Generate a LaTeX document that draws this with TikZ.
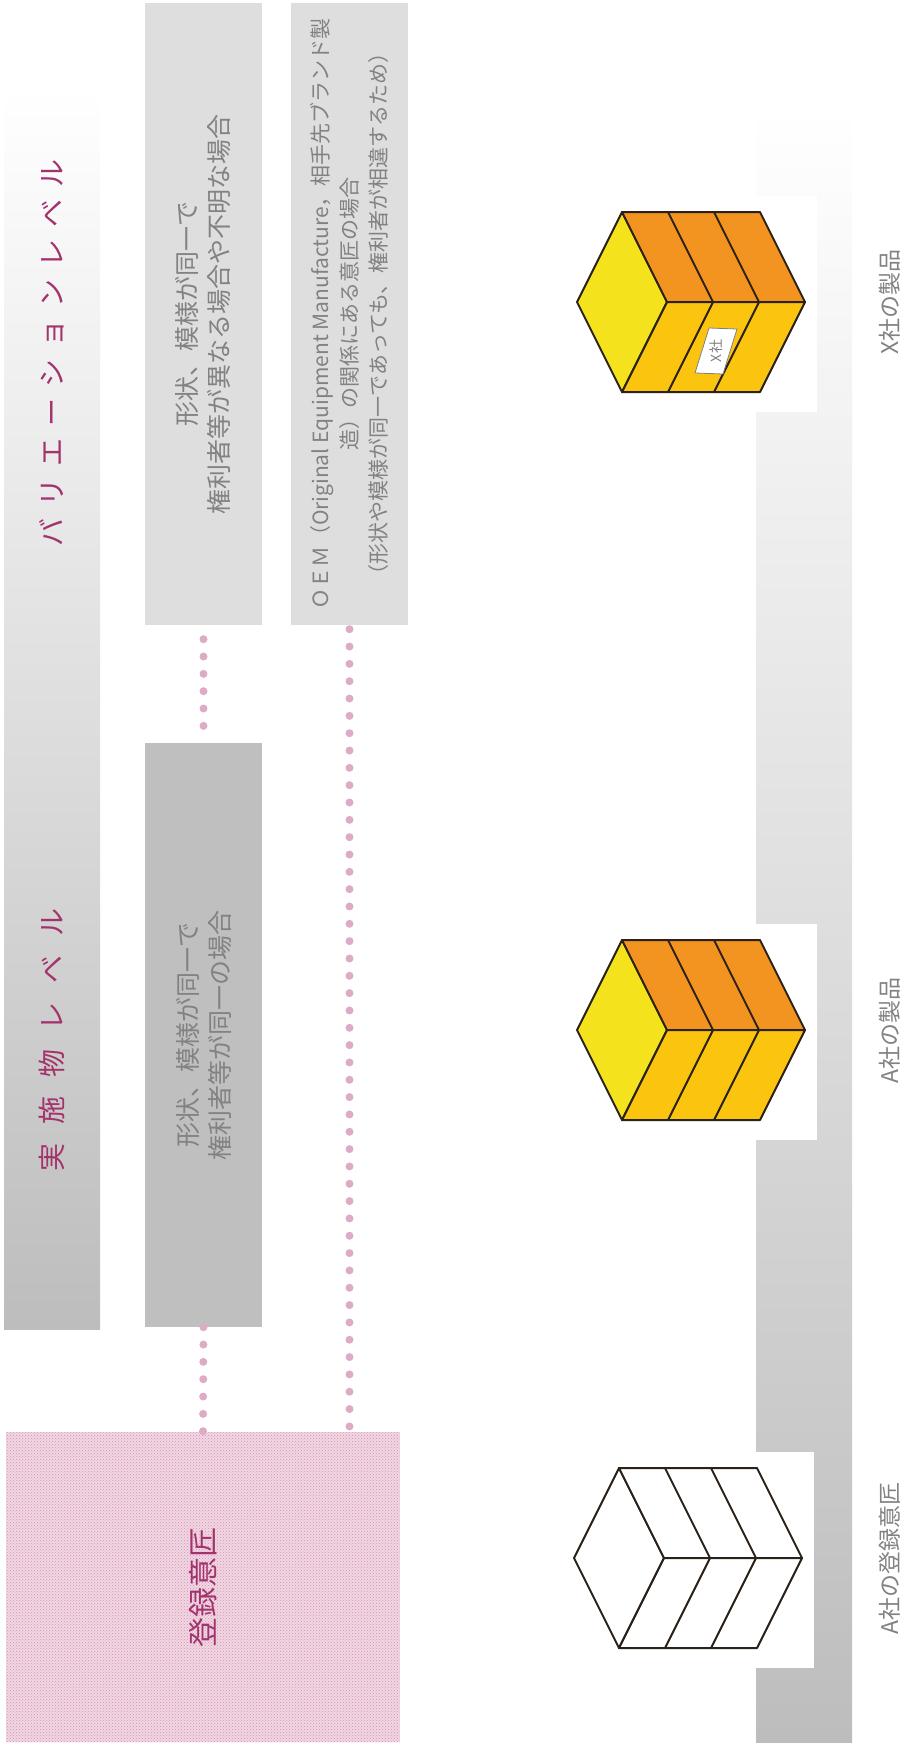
\documentclass[tikz,border=0pt]{standalone}
\usepackage{fontspec}
\setmainfont{Noto Sans CJK JP}
\usetikzlibrary{patterns}

\definecolor{plum}{HTML}{A3336C}
\definecolor{dotpink}{HTML}{DDABC4}
\definecolor{gridpink}{HTML}{D393B3}
\definecolor{regpink}{HTML}{F1D6E3}
\definecolor{notegray}{HTML}{828282}
\definecolor{paleface}{HTML}{DEDEDE}
\definecolor{midface}{HTML}{BFBFBF}
\definecolor{barbottom}{HTML}{BDBDBD}
\definecolor{lemon}{HTML}{F4E31C}
\definecolor{tangerine}{HTML}{F39420}
\definecolor{amber}{HTML}{FBC40E}
\definecolor{edge}{HTML}{2A2118}

\tikzset{
  levelbar/.style={top color=white, bottom color=barbottom, minimum width=96pt, inner sep=0pt},
  casebox/.style={minimum width=117pt, inner sep=0pt},
  casetext/.style={rotate=90, align=center, text=notegray, font=\fontsize{25}{32}\selectfont},
  leveltext/.style={rotate=90, text=plum, font=\fontsize{28}{34}\selectfont},
  caption/.style={rotate=90, text=notegray, font=\fontsize{23}{28}\selectfont},
  regbox/.style={preaction={fill=regpink}, pattern=crosshatch dots, pattern color=gridpink,
    minimum width=394pt, minimum height=310pt, inner sep=0pt},
  dotline/.style={draw=dotpink, line width=8pt, line cap=round, dash pattern=on 0pt off 17.33pt},
  cubeline/.style={draw=edge, line width=2pt, line join=round},
  pics/stripcube/.style n args={3}{code={
    \fill[white] (-12,-106) rectangle (240,110);
    \filldraw[cubeline, fill=#1] (0,0) -- (45,-90) -- (90,0) -- (45,90) -- cycle;
    \filldraw[cubeline, fill=#2] (45,-90) -- (183,-90) -- (228,0) -- (90,0) -- cycle;
    \filldraw[cubeline, fill=#3] (90,0) -- (228,0) -- (183,90) -- (45,90) -- cycle;
    \foreach \d in {46,92}
      \draw[cubeline] (45+\d,-90) -- (90+\d,0) -- (45+\d,90);
  }}
}

\begin{document}
\begin{tikzpicture}[x=1pt, y=-1pt]
  \useasboundingbox (0,0) rectangle (917,1746);

  % level bars
  \node[levelbar, minimum height=1241pt] (hdr) at (52,708.5) {};
  \node[levelbar, minimum height=1637pt] (prodbar) at (804,923.5) {};
  \node[leveltext, font=\fontsize{28}{34}\selectfont\addfontfeature{LetterSpace=43}] (varlvl) at (52,353) {バリエーションレベル};
  \node[leveltext, font=\fontsize{28}{34}\selectfont\addfontfeature{LetterSpace=68}] (implvl) at (52,1040) {実施物レベル};

  % cases
  \node[casebox, fill=paleface, minimum height=622pt] (boxA) at (203.5,314) {};
  \node[casebox, fill=paleface, minimum height=622pt] (boxB) at (349.5,314) {};
  \node[casebox, fill=midface, minimum height=584pt] (boxC) at (203.5,1035) {};
  \node[casetext] (txtA) at (boxA) {形状、模様が同一で\\権利者等が異なる場合や不明な場合};
  \node[casetext, font=\fontsize{21}{29}\selectfont] (txtB) at (boxB)
    {ＯＥＭ（Original Equipment Manufacture，相手先ブランド製\\造）の関係にある意匠の場合\\（形状や模様が同一であっても、権利者が相違するため）};
  \node[casetext] (txtC) at (boxC) {形状、模様が同一で\\権利者等が同一の場合};
  \node[regbox] (reg) at (203,1587) {};
  \node[leveltext, font=\fontsize{30}{36}\selectfont] (regtxt) at (reg) {登録意匠};

  \draw[dotline, shorten <=14pt] (boxA.south) -- (boxC.north);
  \draw[dotline] (boxC.south) -- (reg.north);
  \draw[dotline, shorten <=4pt] (boxB.south) -- (boxB.south |- reg.north);

  % products
  \coordinate (xprod) at (577,302);
  \coordinate (aprod) at (577,1030);
  \coordinate (adesign) at (574,1558);
  \pic at (xprod) {stripcube={lemon}{tangerine}{amber}};
  \pic at (aprod) {stripcube={lemon}{tangerine}{amber}};
  \pic at (adesign) {stripcube={white}{white}{white}};
  \begin{scope}[shift={(xprod)}]
    \filldraw[fill=white, draw=gray, line width=0.8pt] (118,71) -- (132,26) -- (160,27) -- (146,72) -- cycle;
    \node[rotate=90, text=gray, inner sep=0pt, font=\fontsize{14}{14}\selectfont] (xtag) at (139,49) {X社};
  \end{scope}

  \node[caption] (xcap) at (890,302) {X社の製品};
  \node[caption] (acap) at (890,1030) {A社の製品};
  \node[caption] (dcap) at (890,1558) {A社の登録意匠};
\end{tikzpicture}
\end{document}
